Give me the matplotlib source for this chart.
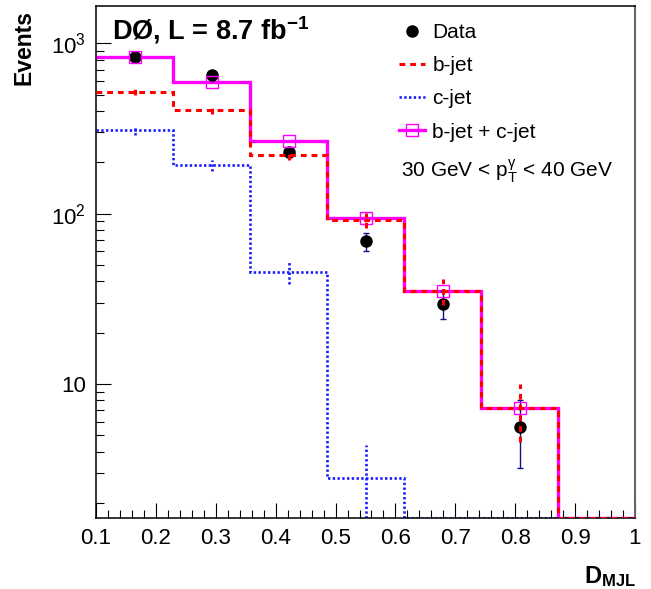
import numpy as np
import matplotlib
matplotlib.use("Agg")
import matplotlib.pyplot as plt
from matplotlib.lines import Line2D
from matplotlib.ticker import FixedLocator, FixedFormatter, NullFormatter, MultipleLocator

plt.rcParams['font.family'] = ['Liberation Sans', 'DejaVu Sans']
plt.rcParams['mathtext.fontset'] = 'custom'
plt.rcParams['mathtext.rm'] = 'Liberation Sans'
plt.rcParams['mathtext.it'] = 'Liberation Sans:italic'
plt.rcParams['mathtext.bf'] = 'Liberation Sans:bold'

# 7 bins of D_MJL between 0.1 and 1.0
edges = np.linspace(0.1, 1.0, 8)
centers = 0.5 * (edges[:-1] + edges[1:])

# values
data = [834, 650, 230, 68.6, 29.5, 5.6]
data_err = [29, 25, 15, 8.3, 5.4, 2.4]
bjet = [519, 404, 222, 91.5, 35.1, 7.26, 0]
bjet_err = [23, 20, 15, 9.6, 5.9, 2.7, 0]
cjet = [308, 192, 45.4, 2.8, 0, 0, 0]
cjet_err = [17.5, 13.9, 6.6, 1.6, 0, 0, 0]

legend_labels = ['Data', 'b-jet', 'c-jet', 'b-jet + c-jet']
ytick_vals = [10, 100, 1000]
ytick_labels = ['10', r'$10^{2}$', r'$10^{3}$']
xtick_vals = [0.1, 0.2, 0.3, 0.4, 0.5, 0.6, 0.7, 0.8, 0.9, 1.0]
xtick_labels = ['0.1', '0.2', '0.3', '0.4', '0.5', '0.6', '0.7', '0.8', '0.9', '1']

ymin, ymax = 1.63, 1655

W, H = 651, 589
fig = plt.figure(figsize=(W / 100, H / 100), dpi=100)
ax = fig.add_axes([96 / W, 1 - 518 / H, (635 - 96) / W, (518 - 6) / H])
ax.set_yscale('log')

bjet = np.array(bjet, dtype=float)
cjet = np.array(cjet, dtype=float)
total = bjet + cjet

red_ls = (0, (1.9, 1.6))
blue_ls = (0, (0.9, 0.9))
blue_lw = 1.9

# histograms (values below the axis are drawn on the axis, as ROOT does)
ax.stairs(np.maximum(total, ymin), edges, baseline=None, color='#ff00ff', lw=2.4, zorder=2)
ax.stairs(np.maximum(cjet, ymin), edges, baseline=None, color='#1a1aff', lw=blue_lw,
          linestyle=blue_ls, zorder=2.5)
ax.stairs(np.maximum(bjet, ymin), edges, baseline=None, color='#ff0000', lw=2.2,
          linestyle=red_ls, zorder=3.5)

# template uncertainties
cm = cjet > 0
ax.vlines(centers[cm], np.maximum(cjet[cm] - np.array(cjet_err)[cm], ymin),
          cjet[cm] + np.array(cjet_err)[cm], colors='#1a1aff', lw=blue_lw,
          linestyles=blue_ls, zorder=2.5)
bm = bjet > 0
ax.vlines(centers[bm], bjet[bm] - np.array(bjet_err)[bm], bjet[bm] + np.array(bjet_err)[bm],
          colors='#ff0000', lw=2.2, linestyles=red_ls, zorder=3.6)

# data
nd = len(data)
ax.errorbar(centers[:nd], data, yerr=data_err, fmt='o', color='black', ms=8,
            ecolor='#10108a', elinewidth=1, capsize=2, capthick=1, zorder=3)

# sum markers
tm = total > 0
ax.plot(centers[tm], total[tm], 's', mfc='none', mec='#ff00ff', mew=1, ms=8.4, zorder=3.2)

ax.set_xlim(0.1, 1.0)
ax.set_ylim(ymin, ymax)

ax.xaxis.set_major_locator(FixedLocator(xtick_vals))
ax.xaxis.set_major_formatter(FixedFormatter(xtick_labels))
ax.xaxis.set_minor_locator(MultipleLocator(0.02))
ax.yaxis.set_major_locator(FixedLocator(ytick_vals))
ax.yaxis.set_major_formatter(FixedFormatter(ytick_labels))
minor_y = [m * 10 ** e for e in range(0, 4) for m in range(2, 10)]
ax.yaxis.set_minor_locator(FixedLocator(minor_y))
ax.yaxis.set_minor_formatter(NullFormatter())

ax.tick_params(which='both', direction='in', top=False, right=False, width=0.8,
               labelsize=16, pad=7)
ax.tick_params(which='major', length=11)
ax.tick_params(which='minor', length=5.5)
for s in ['left', 'bottom', 'top']:
    ax.spines[s].set_linewidth(1.1)
ax.spines['right'].set_linewidth(1.5)
ax.spines['right'].set_color('#666666')

# legend
handles = [
    Line2D([], [], marker='o', color='black', ls='none', ms=8),
    Line2D([], [], color='#ff0000', lw=2.2, ls=red_ls),
    Line2D([], [], color='#1a1aff', lw=blue_lw, ls=blue_ls),
    Line2D([], [], color='#ff00ff', lw=2.4, marker='s', mfc='none', mec='#ff00ff', mew=1, ms=8.4),
]
fig.legend(handles, legend_labels, loc='upper left', bbox_to_anchor=(399 / W, 1 - 23 / H),
           frameon=False, fontsize=15, handlelength=1.25, handletextpad=0.35,
           labelspacing=0.68, borderpad=0, borderaxespad=0)

fig.text(401 / W, 1 - 171 / H, r'30 GeV < p$_{\mathrm{T}}^{\mathrm{\gamma}}$ < 40 GeV',
         fontsize=15, ha='left', va='center')

fig.text(112 / W, 1 - 39 / H, r'DØ, L = 8.7 fb$^{\mathbf{-1}}$', fontsize=19.5,
         fontweight='bold', ha='left', va='baseline')

fig.text(24 / W, 1 - 10 / H, 'Events', rotation=90, fontsize=16.5, fontweight='bold',
         ha='center', va='top')
fig.text(636 / W, 1 - 583 / H, r'D$_{\mathbf{MJL}}$', fontsize=17, fontweight='bold',
         ha='right', va='baseline')

fig.savefig('out.png', dpi=100)
